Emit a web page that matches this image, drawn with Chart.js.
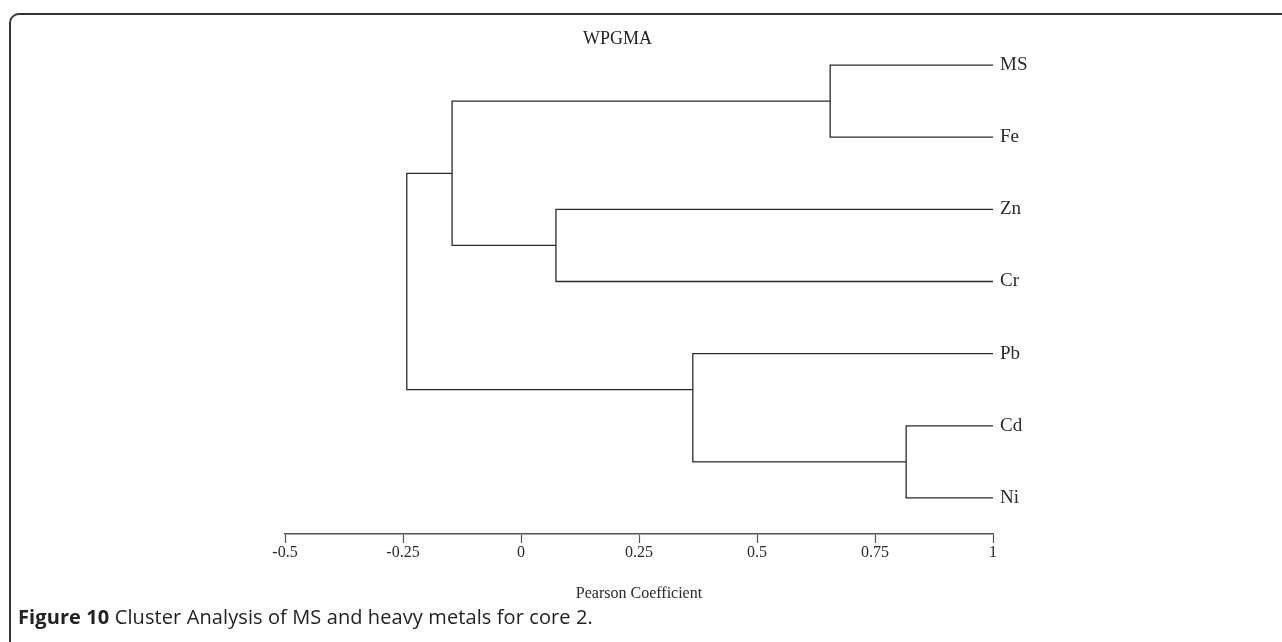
<!DOCTYPE html>
<html>
<head>
<meta charset="utf-8">
<script src="https://cdn.jsdelivr.net/npm/chart.js@4"></script>
<style>
  html, body { margin: 0; padding: 0; background: #fff; }
  #wrap { position: relative; width: 1282px; height: 642px; overflow: hidden; }
  #frame {
    position: absolute; left: 9px; top: 13px; width: 1400px; height: 700px;
    border-top: 2px solid #333; border-left: 2px solid #333;
    border-top-left-radius: 10px; box-sizing: border-box;
  }
  #box { position: absolute; left: 0; top: 0; width: 1282px; height: 642px; }
  #title {
    position: absolute; left: 583px; top: 28px;
    font: 18px "Liberation Serif", serif; color: #222;
  }
  #caption {
    position: absolute; left: 18px; top: 603px;
    font: 20px "Open Sans", sans-serif; color: #222; letter-spacing: 0.1px;
  }
  #caption b { font-weight: 700; }
</style>
</head>
<body>
<div id="wrap">
  <div id="frame"></div>
  <div id="box"><canvas id="dendro"></canvas></div>
  <div id="title">WPGMA</div>
  <div id="caption"><b>Figure 10</b> Cluster Analysis of MS and heavy metals for core 2.</div>
</div>
<script>
// leaves in display order (top to bottom)
const leaves = ["MS", "Fe", "Zn", "Cr", "Pb", "Cd", "Ni"];
// linkage: clusters 0-6 are the leaves, merge i creates cluster 7 + i
const mergeLeft = [0, 2, 5, 4, 7, 11];
const mergeRight = [1, 3, 6, 9, 8, 10];
const mergeCoef = [0.655, 0.074, 0.816, 0.364, -0.146, -0.242];
const xTicks = [-0.5, -0.25, 0, 0.25, 0.5, 0.75, 1];

const ink = "#2a2a2a";
const serif = "'Liberation Serif', 'Times New Roman', serif";

// position of every cluster: x = coefficient, y = connector row, last = last leaf row
const nodes = leaves.map((name, i) => ({ x: 1, y: i, last: i }));
const datasets = [];
mergeLeft.forEach((a, i) => {
  const L = nodes[a], R = nodes[mergeRight[i]];
  const h = mergeCoef[i];
  nodes.push({ x: h, y: L.last + 0.5, last: Math.max(L.last, R.last) });
  datasets.push({
    data: [
      { x: L.x, y: L.y },
      { x: h, y: L.y },
      { x: h, y: R.y },
      { x: R.x, y: R.y }
    ],
    showLine: true,
    borderColor: ink,
    borderWidth: 1.3,
    pointRadius: 0,
    tension: 0,
    fill: false
  });
});

new Chart(document.getElementById("dendro"), {
  type: "scatter",
  data: { datasets },
  options: {
    responsive: true,
    maintainAspectRatio: false,
    animation: false,
    layout: { padding: { left: 285, right: 229, top: 29, bottom: 39 } },
    plugins: { legend: { display: false }, tooltip: { enabled: false } },
    scales: {
      x: {
        type: "linear",
        min: -0.5,
        max: 1,
        afterBuildTicks: (scale) => { scale.ticks = xTicks.map(v => ({ value: v })); },
        afterFit: (scale) => { scale.height = 69; },
        grid: {
          drawOnChartArea: false,
          drawTicks: true,
          tickLength: 9,
          tickWidth: 1.2,
          tickColor: "#555"
        },
        border: { display: true, color: "#555", width: 1.6 },
        ticks: {
          padding: 0,
          maxRotation: 0,
          color: ink,
          font: { family: serif, size: 16 },
          callback: (v) => String(v)
        },
        title: {
          display: true,
          text: "Pearson Coefficient",
          color: ink,
          padding: 0,
          font: { family: serif, size: 16 }
        }
      },
      y: {
        type: "linear",
        position: "right",
        reverse: true,
        min: -0.5,
        max: 6.5,
        afterBuildTicks: (scale) => { scale.ticks = leaves.map((_, i) => ({ value: i })); },
        afterFit: (scale) => { scale.width = 60; },
        grid: { display: false, drawTicks: false },
        border: { display: false },
        ticks: {
          padding: 7,
          color: ink,
          font: { family: serif, size: 19 },
          callback: (v) => leaves[v] ?? ""
        }
      }
    }
  }
});
</script>
</body>
</html>
